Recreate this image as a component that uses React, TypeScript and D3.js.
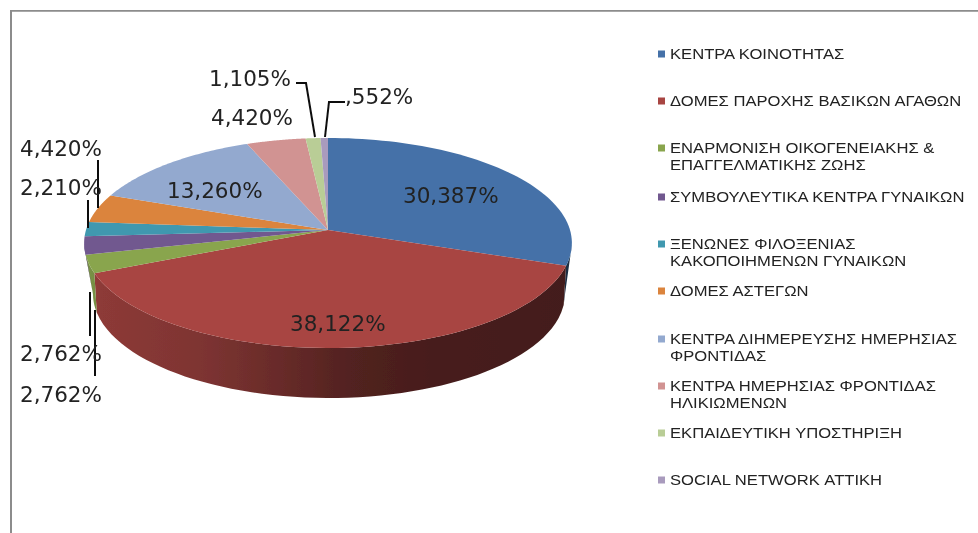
import React from "react";
import * as d3 from "d3";

const categories = [
  "ΚΕΝΤΡΑ ΚΟΙΝΟΤΗΤΑΣ",
  "ΔΟΜΕΣ ΠΑΡΟΧΗΣ ΒΑΣΙΚΩΝ ΑΓΑΘΩΝ",
  "ΕΝΑΡΜΟΝΙΣΗ ΟΙΚΟΓΕΝΕΙΑΚΗΣ &\nΕΠΑΓΓΕΛΜΑΤΙΚΗΣ ΖΩΗΣ",
  "ΣΥΜΒΟΥΛΕΥΤΙΚΑ ΚΕΝΤΡΑ ΓΥΝΑΙΚΩΝ",
  "ΞΕΝΩΝΕΣ ΦΙΛΟΞΕΝΙΑΣ\nΚΑΚΟΠΟΙΗΜΕΝΩΝ ΓΥΝΑΙΚΩΝ",
  "ΔΟΜΕΣ ΑΣΤΕΓΩΝ",
  "ΚΕΝΤΡΑ ΔΙΗΜΕΡΕΥΣΗΣ ΗΜΕΡΗΣΙΑΣ\nΦΡΟΝΤΙΔΑΣ",
  "ΚΕΝΤΡΑ ΗΜΕΡΗΣΙΑΣ ΦΡΟΝΤΙΔΑΣ\nΗΛΙΚΙΩΜΕΝΩΝ",
  "ΕΚΠΑΙΔΕΥΤΙΚΗ ΥΠΟΣΤΗΡΙΞΗ",
  "SOCIAL NETWORK ΑΤΤΙΚΗ",
];
const values = [30.387, 38.122, 2.762, 2.762, 2.21, 4.42, 13.26, 4.42, 1.105, 0.552];
const valueLabels = ["30,387%", "38,122%", "2,762%", "2,762%", "2,210%", "4,420%", "13,260%", "4,420%", "1,105%", ",552%"];
const colors = ["#4471A8", "#A84542", "#89A54E", "#71588F", "#4198AF", "#DB843D", "#93A9CF", "#D19392", "#B9CD96", "#A99BBD"];
const legendY = [54, 101, 148, 197, 244, 291, 339, 386, 433, 480];
// label anchor: start x, centre y
const labelX = [403, 290, 20, 20, 20, 20, 167, 211, 209, 345];
const labelY = [195, 323, 394, 353, 187, 148, 190, 117, 78, 96];
const leaders: ([number, number][] | null)[] = [
  null,
  null,
  [[95, 310], [95, 376]],
  [[90, 292], [90, 336]],
  [[88, 228], [88, 200]],
  [[98, 208], [98, 160]],
  null,
  null,
  [[315, 137], [306, 83], [296, 83]],
  [[325, 137], [329, 102], [345, 102]],
];

const W = 978, H = 533;
const cx = 328, cy = 230;
const A = 242, B = 103.4, K = 0.1238;
// lower rim of the disc, drawn as its own ellipse
const rimCx = 329, rimCy = 294, rimA = 236, rimB = 104, rimShrink = 0.99;
const sideTopY = 243;

function project(theta: number): [number, number] {
  const X = Math.sin(theta), Y = -Math.cos(theta);
  const w = 1 - K * Y;
  return [cx + (A * X) / w, cy + (B * Y) / w];
}
function rim([x]: [number, number]): [number, number] {
  const dx = Math.max(-rimA, Math.min(rimA, (x - rimCx) * rimShrink));
  return [rimCx + dx, rimCy + rimB * Math.sqrt(1 - (dx / rimA) ** 2)];
}

const pieGen = d3.pie<number>().sort(null).startAngle(0).endAngle(2 * Math.PI);
const arcs = pieGen(values);
const line = d3.line();
const thetas = (a: number, b: number) => d3.range(0, 61).map((i) => a + ((b - a) * i) / 60);

const gradX = [85, 100, 200, 280, 350, 430, 575];
const gradF = [0.9, 0.84, 0.75, 0.62, 0.49, 0.42, 0.4];
const darken = (c: string, f: number) => {
  const r = d3.rgb(c);
  return d3.rgb(r.r * f, r.g * f, r.b * f).formatHex();
};
const FONT = "'Liberation Sans', Arial, sans-serif";
const LABEL_FONT = "'DejaVu Sans', Verdana, sans-serif";

export default function App() {
  return (
    <svg width={W} height={H} style={{ position: "fixed", left: 0, top: 0, background: "#fff" }}>
      <defs>
        <filter id="soft" x="0" y="0" width="100%" height="100%">
          <feGaussianBlur stdDeviation="0.45" />
        </filter>
        {colors.map((c, i) => (
          <linearGradient key={i} id={`side${i}`} gradientUnits="userSpaceOnUse" x1={85} x2={575} y1={0} y2={0}>
            {gradX.map((x, j) => (
              <stop key={x} offset={(x - 85) / 490} stopColor={darken(c, gradF[j])} />
            ))}
          </linearGradient>
        ))}
      </defs>
      <g filter="url(#soft)">
        <path d={`M${W},10.3H10.5V${H}`} fill="none" stroke="#8c8c8c" strokeWidth={3} />
        {arcs.map((a, i) => {
          const top = thetas(a.startAngle, a.endAngle).map((t) => project(t)).filter((p) => p[1] >= sideTopY);
          if (top.length < 2) return null;
          const pts = [...top, ...top.slice().reverse().map(rim)];
          return <path key={i} d={line(pts) + "Z"} fill={`url(#side${i})`} />;
        })}
        {arcs.map((a, i) => {
          const pts: [number, number][] = [[cx, cy], ...thetas(a.startAngle, a.endAngle).map((t) => project(t))];
          return <path key={i} d={line(pts) + "Z"} fill={colors[i]} />;
        })}
        {leaders.map((l, i) =>
          l ? <path key={i} d={line(l) ?? ""} fill="none" stroke="#111" strokeWidth={2} /> : null
        )}
        {valueLabels.map((t, i) => (
          <text key={i} x={labelX[i]} y={labelY[i]} dy="0.36em" fontFamily={LABEL_FONT} fontSize={21.5} fill="#222">
            {t}
          </text>
        ))}
        {categories.map((c, i) => {
          const lines = c.split("\n");
          return (
            <g key={i}>
              <rect x={658} y={legendY[i] - 3.5} width={7} height={7} fill={colors[i]} />
              {lines.map((s, j) => (
                <text
                  key={j}
                  transform={`translate(670,${legendY[i] + j * 17}) scale(1.13,1)`}
                  dy="0.36em"
                  fontFamily={FONT}
                  fontSize={14.7}
                  fill="#222"
                >
                  {s}
                </text>
              ))}
            </g>
          );
        })}
      </g>
    </svg>
  );
}
